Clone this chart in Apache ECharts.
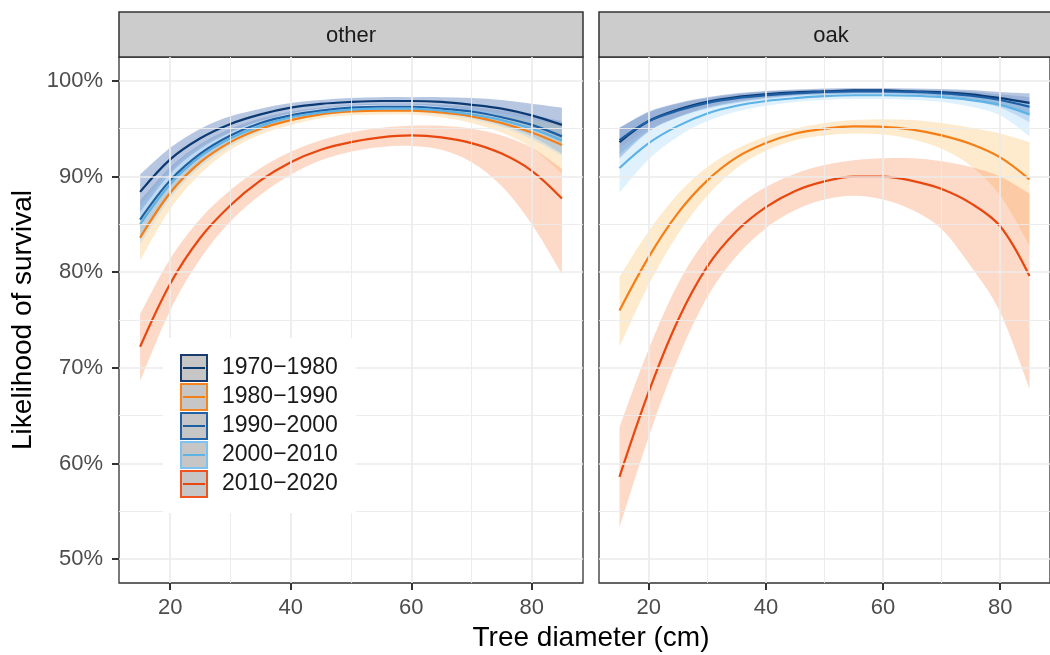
<!DOCTYPE html>
<html><head><meta charset="utf-8">
<script src="https://cdn.jsdelivr.net/npm/echarts@6/dist/echarts.min.js"></script>
<style>html,body{margin:0;padding:0;background:#fff}#c{width:1050px;height:655px}</style>
</head><body><div id="c"></div><script>
// ---------- data ----------
const diameter = [15,20,25,30,35,40,45,50,55,60,65,70,75,80,85];
const periods = ['1970−1980','1980−1990','1990−2000','2000−2010','2010−2020'];
const panels = ['other','oak'];
const yTicks = [50,60,70,80,90,100];
const xTicks = [20,40,60,80];
const yMinor = [55,65,75,85,95];
const xMinor = [30,50,70];

// panel "other"
const otherFit1970 = [88.4,91.8,94.0,95.5,96.5,97.2,97.6,97.8,97.9,97.9,97.8,97.5,97.1,96.4,95.4];
const otherLo1970  = [86.3,90.3,92.9,94.6,95.8,96.6,97.1,97.4,97.5,97.5,97.3,96.9,96.2,95.1,93.5];
const otherHi1970  = [90.2,93.0,95.0,96.3,97.1,97.7,98.0,98.2,98.3,98.3,98.3,98.2,98.0,97.6,97.2];
const otherFit1980 = [83.6,88.3,91.5,93.6,95.0,95.9,96.5,96.8,96.9,96.9,96.7,96.3,95.6,94.6,93.3];
const otherLo1980  = [81.2,86.6,90.3,92.8,94.4,95.4,96.1,96.4,96.5,96.5,96.2,95.6,94.6,93.0,90.3];
const otherHi1980  = [85.8,89.8,92.5,94.3,95.5,96.3,96.8,97.1,97.2,97.2,97.1,96.8,96.4,95.9,95.4];
const otherFit1990 = [85.5,89.6,92.4,94.3,95.6,96.4,96.9,97.2,97.3,97.3,97.1,96.8,96.2,95.4,94.2];
const otherLo1990  = [83.4,88.1,91.3,93.5,95.0,96.0,96.6,96.9,97.0,97.0,96.7,96.2,95.4,94.2,92.4];
const otherHi1990  = [87.5,91.0,93.4,95.0,96.1,96.8,97.2,97.5,97.6,97.6,97.5,97.3,96.9,96.4,95.8];
const otherFit2000 = [85.0,89.2,92.1,94.0,95.3,96.2,96.7,97.0,97.1,97.1,96.9,96.5,95.9,95.0,93.8];
const otherLo2000  = [82.9,87.7,91.0,93.2,94.7,95.8,96.4,96.7,96.8,96.8,96.5,96.0,95.2,93.9,92.2];
const otherHi2000  = [86.9,90.6,93.1,94.7,95.8,96.5,97.0,97.3,97.4,97.4,97.3,97.0,96.6,96.0,95.3];
const otherFit2010 = [72.2,78.8,83.6,87.0,89.6,91.5,92.8,93.6,94.1,94.3,94.1,93.5,92.4,90.6,87.7];
const otherLo2010  = [68.6,76.0,81.4,85.3,88.1,90.2,91.7,92.6,93.1,93.2,92.8,91.5,89.0,85.0,79.8];
const otherHi2010  = [75.6,81.4,85.6,88.6,90.9,92.6,93.8,94.6,95.1,95.3,95.3,95.0,94.3,93.0,90.8];

// panel "oak"
const oakFit1970 = [93.6,95.8,97.0,97.8,98.3,98.6,98.8,98.9,99.0,99.0,98.9,98.8,98.6,98.2,97.7];
const oakLo1970  = [91.9,94.7,96.2,97.2,97.8,98.2,98.5,98.6,98.7,98.7,98.6,98.4,98.1,97.5,96.4];
const oakHi1970  = [95.1,96.8,97.7,98.3,98.7,98.95,99.1,99.2,99.25,99.25,99.2,99.15,99.05,98.85,98.7];
const oakFit1980 = [76.0,81.6,86.2,89.6,92.0,93.5,94.5,95.0,95.25,95.2,94.9,94.3,93.4,92.0,89.7];
const oakLo1980  = [72.2,78.7,84.0,88.0,90.9,92.7,93.8,94.3,94.5,94.4,93.9,92.9,91.1,88.0,82.8];
const oakHi1980  = [79.5,84.3,88.2,91.0,92.9,94.2,95.0,95.6,95.9,96.0,95.9,95.6,95.1,94.5,93.6];
const oakFit1990 = [93.8,95.8,96.9,97.7,98.2,98.5,98.7,98.85,98.9,98.9,98.85,98.7,98.45,98.0,97.3];
const oakLo1990  = [92.3,94.8,96.2,97.1,97.7,98.1,98.4,98.55,98.6,98.6,98.5,98.3,97.9,97.2,95.7];
const oakHi1990  = [95.1,96.7,97.6,98.2,98.6,98.9,99.0,99.1,99.15,99.15,99.1,99.0,98.9,98.6,98.3];
const oakFit2000 = [90.9,93.5,95.3,96.6,97.4,97.9,98.2,98.4,98.5,98.5,98.45,98.3,98.0,97.5,96.5];
const oakLo2000  = [88.3,91.8,94.2,95.8,96.8,97.4,97.8,98.0,98.1,98.1,98.0,97.8,97.3,96.4,94.2];
const oakHi2000  = [93.0,95.0,96.3,97.3,97.9,98.3,98.5,98.7,98.8,98.8,98.75,98.65,98.5,98.2,97.8];
const oakFit2010 = [58.6,67.5,75.0,80.6,84.3,86.8,88.5,89.5,90.0,90.0,89.55,88.7,87.2,84.8,79.6];
const oakLo2010  = [53.3,62.8,71.0,77.4,81.7,84.6,86.5,87.6,88.0,87.6,86.5,84.5,80.6,75.8,67.8];
const oakHi2010  = [63.8,72.0,78.8,83.6,86.8,88.9,90.3,91.2,91.7,91.9,91.9,91.6,91.0,90.0,88.2];

// ---------- styling ----------
const lineColors   = ['#0c3a73','#f57f17','#1d5fa5','#5db2e6','#e8470f'];
const legendBorder = ['#173c6d','#f5841f','#2361a6','#7ec3ef','#ef5420'];
const ribbonColors = ['rgba(40,85,165,0.33)','rgba(253,196,115,0.36)','rgba(50,105,180,0.22)','rgba(150,210,248,0.30)','rgba(249,150,100,0.36)'];
const FONT = "'Liberation Sans', Arial, Helvetica, sans-serif";

const fits = [[otherFit1970,otherFit1980,otherFit1990,otherFit2000,otherFit2010],[oakFit1970,oakFit1980,oakFit1990,oakFit2000,oakFit2010]];
const los  = [[otherLo1970,otherLo1980,otherLo1990,otherLo2000,otherLo2010],[oakLo1970,oakLo1980,oakLo1990,oakLo2000,oakLo2010]];
const his  = [[otherHi1970,otherHi1980,otherHi1990,otherHi2000,otherHi2010],[oakHi1970,oakHi1980,oakHi1990,oakHi2000,oakHi2010]];

function smoothPath(pts, start) {
  // Catmull-Rom -> cubic bezier through given pixel points
  let d = (start ? 'M' : 'L') + pts[0][0] + ',' + pts[0][1];
  for (let i = 0; i < pts.length - 1; i++) {
    const p0 = pts[Math.max(i - 1, 0)], p1 = pts[i], p2 = pts[i + 1], p3 = pts[Math.min(i + 2, pts.length - 1)];
    const c1 = [p1[0] + (p2[0] - p0[0]) / 6, p1[1] + (p2[1] - p0[1]) / 6];
    const c2 = [p2[0] - (p3[0] - p1[0]) / 6, p2[1] - (p3[1] - p1[1]) / 6];
    d += 'C' + c1[0] + ',' + c1[1] + ',' + c2[0] + ',' + c2[1] + ',' + p2[0] + ',' + p2[1];
  }
  return d;
}

const series = [];
// grid lines (drawn through the axes with markLine)
[0,1].forEach(function (g) {
  const ml = [];
  xTicks.forEach(v => ml.push({xAxis: v, lineStyle: {width: 1.7}}));
  xMinor.forEach(v => ml.push({xAxis: v, lineStyle: {width: 0.9}}));
  yTicks.forEach(v => ml.push({yAxis: v, lineStyle: {width: 1.7}}));
  yMinor.forEach(v => ml.push({yAxis: v, lineStyle: {width: 0.9}}));
  series.push({
    type: 'line', xAxisIndex: g, yAxisIndex: g, data: [], z: 1, silent: true,
    markLine: {silent: true, symbol: ['none','none'], label: {show: false}, animation: false,
      lineStyle: {color: '#ebebeb', type: 'solid'}, emphasis: {disabled: true}, data: ml}
  });
});
// ribbons
[0,1].forEach(function (g) {
  periods.forEach(function (p, k) {
    const lo = los[g][k], hi = his[g][k], col = ribbonColors[k];
    series.push({
      type: 'custom', name: 'band ' + panels[g] + ' ' + p, xAxisIndex: g, yAxisIndex: g, z: 2, silent: true,
      data: [[diameter[0], lo[0]]],
      renderItem: function (params, api) {
        const up = diameter.map((d, i) => api.coord([d, hi[i]]));
        const dn = diameter.map((d, i) => api.coord([d, lo[i]])).reverse();
        const path = smoothPath(up, true) + smoothPath(dn, false) + 'Z';
        return {type: 'path', shape: {pathData: path}, style: {fill: col, stroke: null}};
      }
    });
  });
});
// fitted lines
[0,1].forEach(function (g) {
  periods.forEach(function (p, k) {
    series.push({
      type: 'line', name: p, xAxisIndex: g, yAxisIndex: g, z: 3, silent: true,
      smooth: 0.35, symbol: 'none', showSymbol: false,
      data: diameter.map((d, i) => [d, fits[g][k][i]]),
      lineStyle: {color: lineColors[k], width: 2.2},
      itemStyle: {color: lineColors[k]}
    });
  });
});

const gridTop = 57, gridH = 526, gridW = 464;
const lefts = [119, 599];

// legend drawn as graphic elements (key boxes, key lines, real text)
const legX = 163, legY = 338, keyX = 181, keyY0 = 355, keyStep = 29;
const legendEls = [{type: 'rect', z: 50, shape: {x: legX, y: legY, width: 193, height: 175}, style: {fill: '#ffffff'}}];
periods.forEach(function (p, k) {
  const cy = keyY0 + 13 + k * keyStep;
  legendEls.push({type: 'rect', z: 51, shape: {x: keyX, y: keyY0 + k * keyStep, width: 26, height: 26},
    style: {fill: '#c6c6c6', stroke: legendBorder[k], lineWidth: 2}});
  legendEls.push({type: 'line', z: 52, shape: {x1: keyX + 2, y1: cy, x2: keyX + 24, y2: cy},
    style: {stroke: lineColors[k], lineWidth: 2}});
  legendEls.push({type: 'text', z: 52, x: 222, y: cy,
    style: {text: p, fontSize: 23, fontFamily: FONT, fill: '#1a1a1a', textVerticalAlign: 'middle', verticalAlign: 'middle', textAlign: 'left', align: 'left'}});
});

const option = {
  animation: false,
  textStyle: {fontFamily: FONT},
  grid: lefts.map(l => ({left: l, top: gridTop, width: gridW, height: gridH, show: true,
    backgroundColor: '#ffffff', borderColor: '#333333', borderWidth: 1.3, containLabel: false})),
  xAxis: [0,1].map(g => ({
    type: 'value', gridIndex: g, min: 11.5, max: 88.5,
    axisLine: {show: false},
    axisTick: {show: true, customValues: xTicks, length: 7, lineStyle: {color: '#333333', width: 2}},
    axisLabel: {show: true, customValues: xTicks, fontSize: 22, color: '#4d4d4d', margin: 14, fontFamily: FONT},
    splitLine: {show: false}, minorSplitLine: {show: false}
  })),
  yAxis: [0,1].map(g => ({
    type: 'value', gridIndex: g, min: 47.5, max: 102.5,
    axisLine: {show: false},
    axisTick: {show: g === 0, customValues: yTicks, length: 7, lineStyle: {color: '#333333', width: 2}},
    axisLabel: {show: g === 0, customValues: yTicks, fontSize: 22, color: '#4d4d4d', margin: 16, fontFamily: FONT,
      formatter: v => v + '%'},
    splitLine: {show: false},
    name: g === 0 ? 'Likelihood of survival' : '',
    nameLocation: 'middle', nameGap: 82,
    nameTextStyle: {fontSize: 28, color: '#000000', fontFamily: FONT}
  })),
  title: [
    {text: panels[0], left: lefts[0] + gridW / 2, top: 25, textAlign: 'center', padding: 0,
      textStyle: {fontSize: 22, fontWeight: 'normal', color: '#1a1a1a', fontFamily: FONT}},
    {text: panels[1], left: lefts[1] + gridW / 2, top: 25, textAlign: 'center', padding: 0,
      textStyle: {fontSize: 22, fontWeight: 'normal', color: '#1a1a1a', fontFamily: FONT}},
    {text: 'Tree diameter (cm)', left: (lefts[0] + lefts[1] + gridW) / 2, top: 624, textAlign: 'center', padding: 0,
      textStyle: {fontSize: 28, fontWeight: 'normal', color: '#000000', fontFamily: FONT}}
  ],
  graphic: {
    elements: lefts.map(l => ({type: 'rect', z: 1, shape: {x: l, y: 12, width: gridW, height: gridTop - 12},
      style: {fill: '#cccccc', stroke: '#333333', lineWidth: 1.5}})).concat(legendEls)
  },
  series: series
};

const chart = echarts.init(document.getElementById('c'), null, {renderer: 'canvas'});
chart.setOption(option);
</script></body></html>
